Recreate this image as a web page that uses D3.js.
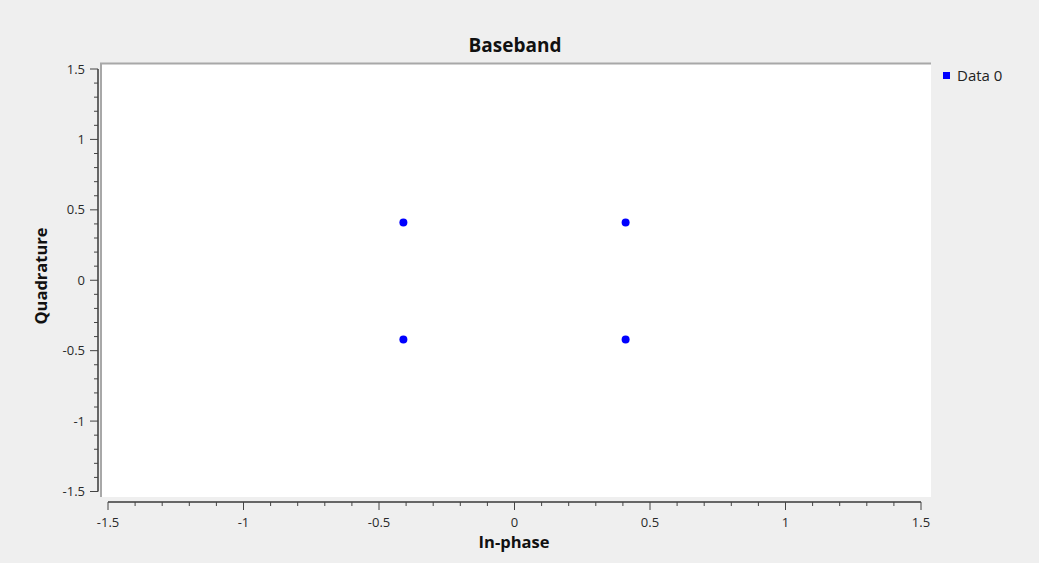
<!DOCTYPE html>
<html>
<head>
<meta charset="utf-8">
<script src="https://d3js.org/d3.v7.min.js"></script>
<style>
  body { margin: 0; background: #efefef; }
  svg { display: block; font-family: "Open Sans", "DejaVu Sans", sans-serif; }
</style>
</head>
<body>
<script>
"use strict";

var width = 1039,
    height = 563;

// constellation points (in-phase, quadrature)
const inPhase = [-0.41, 0.41, -0.41, 0.41];
const quadrature = [0.41, 0.41, -0.42, -0.42];
const seriesName = "Data 0";
const xTicks = [-1.5, -1, -0.5, 0, 0.5, 1, 1.5];
const yTicks = [-1.5, -1, -0.5, 0, 0.5, 1, 1.5];

let svg = d3.select("body")
    .append("svg")
    .attr("width", width)
    .attr("height", height);

svg.append("rect")
    .attr("width", width).attr("height", height)
    .attr("fill", "#efefef");

let x = d3.scaleLinear().domain([-1.5, 1.5]).range([108, 921]);
let y = d3.scaleLinear().domain([-1.5, 1.5]).range([491.5, 69]);

// plot canvas with sunken frame
svg.append("rect")
    .attr("x", 101).attr("y", 63)
    .attr("width", 830).attr("height", 434)
    .attr("fill", "#ffffff");
svg.append("path")
    .attr("d", "M101,497V63.5H931")
    .attr("fill", "none")
    .attr("stroke", "#a8a8a8")
    .attr("stroke-width", 2);

// minor tick values
let minor = d3.range(-15, 16).map(d => d / 10).filter(d => Math.abs(d * 2 - Math.round(d * 2)) > 1e-6);

// x axis
let xg = svg.append("g").attr("transform", "translate(0,502)");
xg.append("line")
    .attr("x1", x(-1.5)).attr("x2", x(1.5))
    .attr("stroke", "#666").attr("stroke-width", 2);
xg.selectAll(".minor").data(minor).enter().append("line")
    .attr("x1", d => x(d)).attr("x2", d => x(d))
    .attr("y1", 0).attr("y2", 4)
    .attr("stroke", "#444");
xg.selectAll(".major").data(xTicks).enter().append("line")
    .attr("x1", d => x(d)).attr("x2", d => x(d))
    .attr("y1", 0).attr("y2", 8)
    .attr("stroke", "#444");
xg.selectAll("text").data(xTicks).enter().append("text")
    .attr("x", d => x(d)).attr("y", 25)
    .attr("text-anchor", "middle")
    .attr("font-size", 13)
    .attr("fill", "#2a2a2a")
    .text(d => String(d));

// y axis
let yg = svg.append("g").attr("transform", "translate(98,0)");
yg.append("line")
    .attr("y1", y(-1.5)).attr("y2", y(1.5))
    .attr("stroke", "#666").attr("stroke-width", 2);
yg.selectAll(".minor").data(minor).enter().append("line")
    .attr("y1", d => y(d)).attr("y2", d => y(d))
    .attr("x1", 0).attr("x2", -4)
    .attr("stroke", "#444");
yg.selectAll(".major").data(yTicks).enter().append("line")
    .attr("y1", d => y(d)).attr("y2", d => y(d))
    .attr("x1", 0).attr("x2", -8)
    .attr("stroke", "#444");
yg.selectAll("text").data(yTicks).enter().append("text")
    .attr("x", -13).attr("y", d => y(d) + 4.5)
    .attr("text-anchor", "end")
    .attr("font-size", 13)
    .attr("fill", "#2a2a2a")
    .text(d => String(d));

// points
svg.append("g").selectAll("circle")
    .data(inPhase.map((d, i) => [d, quadrature[i]]))
    .enter().append("circle")
    .attr("cx", d => x(d[0]))
    .attr("cy", d => y(d[1]))
    .attr("r", 4)
    .attr("fill", "#0000ff");

// titles
svg.append("text")
    .attr("x", 515).attr("y", 52)
    .attr("text-anchor", "middle")
    .attr("font-size", 19).attr("font-weight", "bold")
    .attr("fill", "#111")
    .text("Baseband");
svg.append("text")
    .attr("x", 514).attr("y", 548)
    .attr("text-anchor", "middle")
    .attr("font-size", 16.5).attr("font-weight", "bold")
    .attr("fill", "#111")
    .text("In-phase");
svg.append("text")
    .attr("transform", "translate(47,276) rotate(-90)")
    .attr("text-anchor", "middle")
    .attr("font-size", 16.5).attr("font-weight", "bold")
    .attr("fill", "#111")
    .text("Quadrature");

// legend
svg.append("rect")
    .attr("x", 943).attr("y", 72)
    .attr("width", 7).attr("height", 7)
    .attr("fill", "#0000ff");
svg.append("text")
    .attr("x", 957).attr("y", 81)
    .attr("font-size", 15)
    .attr("fill", "#222")
    .text(seriesName);
</script>
</body>
</html>
